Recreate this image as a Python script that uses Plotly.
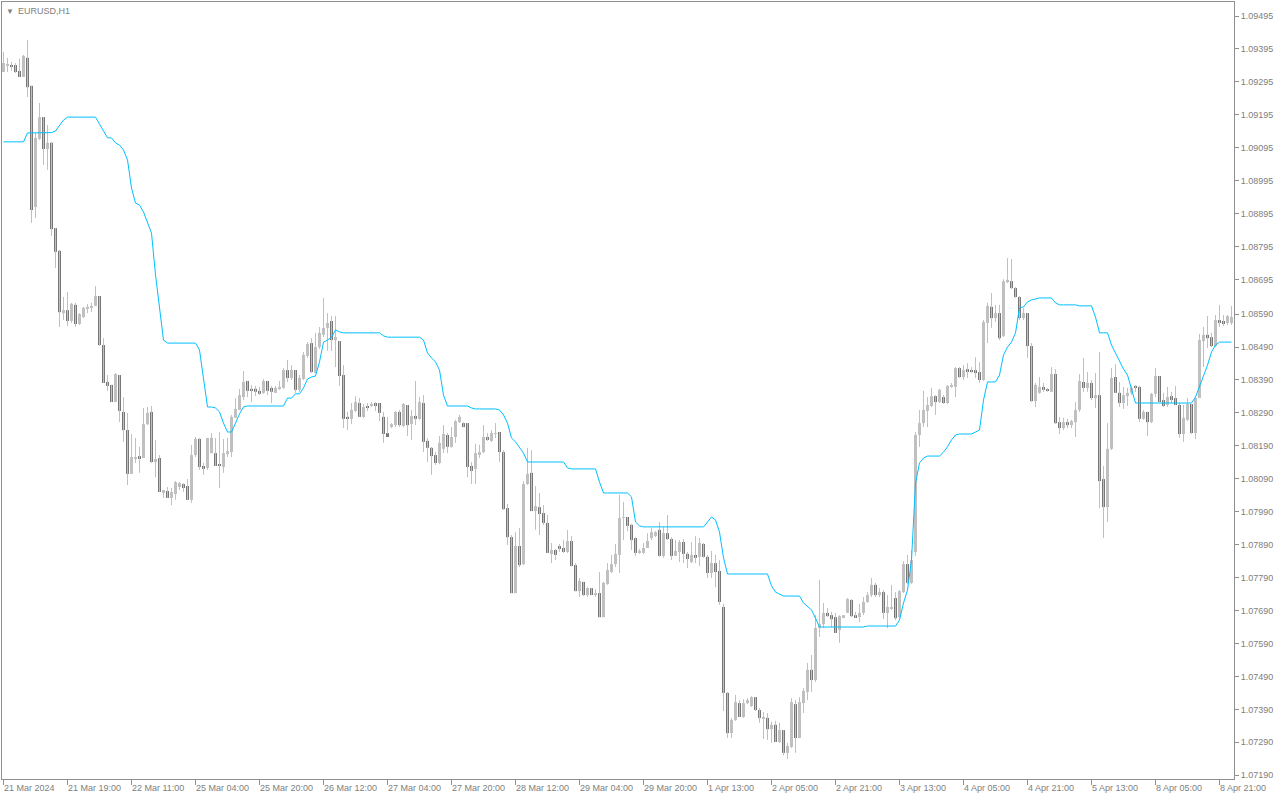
import plotly.graph_objects as go

# EURUSD H1 prices, in points (1 point = 0.00001)
PT = 0.00001

OPEN_PTS = [
    109325, 109346, 109346, 109346, 109328, 109310, 109368, 109283, 108915, 109122,  # 0
    109188, 109091, 109110, 108851, 108782, 108593, 108602, 108569, 108618, 108560,  # 10
    108581, 108606, 108609, 108615, 108645, 108496, 108384, 108375, 108323, 108405,  # 20
    108293, 108238, 108105, 108153, 108159, 108153, 108256, 108293, 108141, 108153,  # 30
    108047, 108053, 108032, 108044, 108065, 108074, 108068, 108026, 108162, 108211,  # 40
    108129, 108123, 108168, 108168, 108132, 108126, 108165, 108171, 108275, 108299,  # 50
    108338, 108387, 108363, 108363, 108357, 108351, 108387, 108366, 108351, 108363,  # 60
    108366, 108420, 108396, 108420, 108360, 108393, 108463, 108502, 108411, 108490,  # 70
    108527, 108548, 108569, 108511, 108508, 108405, 108278, 108272, 108296, 108320,  # 80
    108278, 108311, 108314, 108320, 108320, 108278, 108229, 108250, 108253, 108293,  # 90
    108250, 108314, 108256, 108281, 108272, 108320, 108205, 108184, 108162, 108138,  # 100
    108181, 108223, 108187, 108217, 108262, 108259, 108259, 108129, 108120, 108165,  # 110
    108171, 108217, 108205, 108226, 108232, 108171, 108001, 107913, 107743, 107886,  # 120
    107831, 108074, 108108, 107992, 108004, 107986, 107956, 107862, 107874, 107886,  # 130
    107880, 107868, 107901, 107828, 107749, 107777, 107737, 107758, 107740, 107743,  # 140
    107670, 107771, 107807, 107831, 107859, 107971, 107974, 107950, 107910, 107865,  # 150
    107865, 107880, 107910, 107916, 107935, 107856, 107925, 107907, 107856, 107868,  # 160
    107898, 107862, 107837, 107859, 107853, 107892, 107853, 107804, 107834, 107810,  # 170
    107701, 107440, 107318, 107358, 107409, 107367, 107409, 107400, 107427, 107388,  # 180
    107361, 107364, 107330, 107343, 107291, 107327, 107258, 107276, 107406, 107303,  # 190
    107409, 107443, 107510, 107479, 107637, 107649, 107683, 107676, 107670, 107631,  # 200
    107670, 107683, 107722, 107676, 107670, 107683, 107716, 107737, 107768, 107737,  # 210
    107746, 107683, 107695, 107728, 107670, 107746, 107831, 107774, 107868, 108223,  # 220
    108259, 108296, 108311, 108341, 108323, 108338, 108320, 108369, 108369, 108426,  # 230
    108399, 108423, 108420, 108420, 108414, 108390, 108563, 108612, 108578, 108593,  # 240
    108524, 108687, 108690, 108669, 108642, 108578, 108593, 108493, 108326, 108351,  # 250
    108369, 108360, 108354, 108408, 108262, 108244, 108262, 108253, 108262, 108299,  # 260
    108384, 108366, 108381, 108335, 108344, 108089, 108004, 108181, 108399, 108351,  # 270
    108320, 108341, 108351, 108372, 108369, 108272, 108293, 108262, 108348, 108402,  # 280
    108329, 108314, 108341, 108335, 108314, 108226, 108269, 108317, 108229, 108335,  # 290
    108508, 108527, 108520, 108493, 108572, 108569, 108563, 108563,                  # 300
]

HIGH_PTS = [
    109386, 109368, 109355, 109352, 109365, 109377, 109422, 109283, 109140, 109231,  # 0
    109188, 109164, 109113, 108851, 108785, 108642, 108657, 108624, 108624, 108593,  # 10
    108612, 108621, 108624, 108675, 108645, 108517, 108405, 108375, 108411, 108405,  # 20
    108338, 108290, 108226, 108214, 108187, 108305, 108308, 108311, 108208, 108162,  # 30
    108056, 108065, 108062, 108083, 108080, 108077, 108089, 108193, 108217, 108214,  # 40
    108138, 108214, 108229, 108214, 108232, 108211, 108214, 108284, 108335, 108363,  # 50
    108417, 108387, 108375, 108372, 108369, 108393, 108387, 108372, 108372, 108387,  # 60
    108426, 108451, 108435, 108420, 108405, 108475, 108505, 108517, 108533, 108551,  # 70
    108639, 108593, 108584, 108584, 108508, 108435, 108293, 108320, 108341, 108335,  # 80
    108317, 108320, 108323, 108323, 108320, 108293, 108278, 108259, 108296, 108299,  # 90
    108320, 108314, 108299, 108387, 108338, 108344, 108214, 108187, 108171, 108220,  # 100
    108253, 108229, 108247, 108269, 108284, 108262, 108259, 108141, 108196, 108193,  # 110
    108253, 108229, 108238, 108259, 108232, 108177, 108014, 107919, 107928, 107941,  # 120
    108083, 108184, 108177, 108068, 108047, 108010, 107980, 107895, 107877, 107892,  # 130
    107904, 107935, 107916, 107834, 107789, 107777, 107761, 107758, 107755, 107807,  # 140
    107777, 107834, 107859, 107892, 108041, 108020, 107974, 107953, 107913, 107877,  # 150
    107895, 107925, 107941, 107931, 107959, 107944, 107980, 107913, 107904, 107904,  # 160
    107907, 107868, 107898, 107916, 107910, 107895, 107859, 107871, 107859, 107843,  # 170
    107710, 107443, 107364, 107434, 107418, 107421, 107424, 107430, 107427, 107394,  # 180
    107382, 107379, 107352, 107355, 107349, 107327, 107288, 107424, 107418, 107427,  # 190
    107455, 107531, 107555, 107676, 107783, 107713, 107698, 107686, 107683, 107676,  # 200
    107676, 107728, 107725, 107686, 107710, 107731, 107746, 107789, 107774, 107758,  # 210
    107752, 107737, 107768, 107746, 107752, 107840, 107859, 107874, 108232, 108299,  # 220
    108357, 108338, 108366, 108344, 108363, 108344, 108375, 108381, 108429, 108429,  # 230
    108435, 108441, 108429, 108459, 108444, 108572, 108624, 108654, 108618, 108618,  # 240
    108696, 108760, 108757, 108672, 108645, 108609, 108593, 108502, 108381, 108399,  # 250
    108381, 108366, 108429, 108423, 108278, 108275, 108272, 108269, 108323, 108408,  # 260
    108457, 108414, 108390, 108411, 108475, 108129, 108259, 108426, 108438, 108384,  # 270
    108369, 108366, 108372, 108375, 108372, 108299, 108293, 108351, 108426, 108402,  # 280
    108351, 108369, 108354, 108372, 108320, 108314, 108335, 108317, 108338, 108530,  # 290
    108551, 108584, 108533, 108587, 108618, 108587, 108587, 108615,                  # 300
]

LOW_PTS = [
    109325, 109325, 109328, 109322, 109310, 109310, 109249, 108867, 108882, 109119,  # 0
    109043, 109028, 108827, 108730, 108551, 108572, 108554, 108563, 108551, 108557,  # 10
    108578, 108593, 108596, 108615, 108493, 108381, 108357, 108323, 108323, 108262,  # 20
    108202, 108071, 108105, 108138, 108108, 108153, 108253, 108138, 108095, 108050,  # 30
    108032, 108032, 108010, 108026, 108056, 108050, 108026, 108017, 108156, 108117,  # 40
    108102, 108117, 108168, 108129, 108062, 108108, 108156, 108156, 108275, 108299,  # 50
    108329, 108338, 108323, 108341, 108344, 108348, 108344, 108320, 108351, 108360,  # 60
    108363, 108384, 108390, 108351, 108354, 108390, 108457, 108411, 108411, 108484,  # 70
    108520, 108478, 108478, 108429, 108372, 108244, 108238, 108256, 108293, 108278,  # 80
    108275, 108296, 108308, 108296, 108265, 108199, 108226, 108244, 108247, 108247,  # 90
    108247, 108220, 108208, 108253, 108269, 108171, 108141, 108102, 108132, 108135,  # 100
    108168, 108168, 108184, 108199, 108259, 108247, 108095, 108074, 108074, 108153,  # 110
    108168, 108205, 108202, 108214, 108141, 107995, 107889, 107743, 107743, 107822,  # 120
    107828, 108071, 107992, 107935, 107919, 107950, 107865, 107834, 107843, 107868,  # 130
    107865, 107865, 107825, 107749, 107731, 107734, 107731, 107737, 107731, 107670,  # 140
    107670, 107768, 107804, 107822, 107804, 107904, 107931, 107874, 107856, 107862,  # 150
    107862, 107880, 107904, 107913, 107853, 107850, 107904, 107843, 107856, 107837,  # 160
    107834, 107819, 107834, 107834, 107825, 107850, 107789, 107789, 107761, 107707,  # 170
    107385, 107303, 107303, 107355, 107367, 107364, 107406, 107397, 107385, 107349,  # 180
    107300, 107297, 107288, 107291, 107288, 107251, 107239, 107273, 107258, 107303,  # 190
    107379, 107418, 107443, 107473, 107610, 107637, 107670, 107640, 107622, 107592,  # 200
    107667, 107683, 107670, 107667, 107655, 107676, 107713, 107731, 107731, 107731,  # 210
    107664, 107637, 107692, 107661, 107667, 107743, 107771, 107771, 107856, 108187,  # 220
    108247, 108247, 108308, 108284, 108320, 108317, 108317, 108366, 108338, 108396,  # 230
    108390, 108396, 108411, 108396, 108381, 108387, 108502, 108548, 108566, 108511,  # 240
    108520, 108684, 108666, 108639, 108572, 108572, 108457, 108323, 108308, 108348,  # 250
    108354, 108354, 108354, 108256, 108226, 108238, 108244, 108244, 108217, 108293,  # 260
    108354, 108354, 108329, 108305, 108001, 107910, 107959, 108177, 108351, 108308,  # 270
    108302, 108311, 108344, 108354, 108262, 108269, 108220, 108259, 108338, 108323,  # 280
    108308, 108308, 108320, 108314, 108214, 108202, 108265, 108226, 108211, 108335,  # 290
    108429, 108487, 108490, 108490, 108551, 108554, 108557, 108557,                  # 300
]

CLOSE_PTS = [
    109352, 109349, 109343, 109325, 109310, 109374, 109279, 108906, 109125, 109188,  # 0
    109091, 109110, 108848, 108779, 108596, 108602, 108569, 108621, 108560, 108590,  # 10
    108609, 108612, 108612, 108645, 108496, 108381, 108372, 108323, 108408, 108296,  # 20
    108238, 108105, 108156, 108156, 108153, 108256, 108290, 108141, 108150, 108050,  # 30
    108056, 108032, 108050, 108080, 108077, 108062, 108026, 108162, 108211, 108126,  # 40
    108120, 108214, 108214, 108129, 108129, 108168, 108174, 108278, 108302, 108344,  # 50
    108384, 108357, 108357, 108354, 108348, 108387, 108357, 108354, 108366, 108369,  # 60
    108420, 108396, 108420, 108360, 108396, 108466, 108499, 108414, 108490, 108533,  # 70
    108548, 108563, 108511, 108520, 108402, 108272, 108272, 108299, 108323, 108278,  # 80
    108308, 108305, 108317, 108314, 108290, 108226, 108217, 108256, 108293, 108253,  # 90
    108317, 108253, 108281, 108272, 108323, 108202, 108184, 108159, 108138, 108199,  # 100
    108226, 108187, 108217, 108265, 108278, 108247, 108126, 108114, 108168, 108171,  # 110
    108217, 108208, 108229, 108229, 108171, 107998, 107913, 107743, 107886, 107828,  # 120
    108074, 108105, 107992, 108007, 107983, 107956, 107865, 107874, 107859, 107877,  # 130
    107868, 107901, 107825, 107749, 107780, 107737, 107758, 107737, 107743, 107670,  # 140
    107774, 107813, 107831, 107862, 107971, 107974, 107947, 107904, 107865, 107871,  # 150
    107880, 107901, 107928, 107928, 107856, 107925, 107907, 107856, 107871, 107898,  # 160
    107862, 107847, 107859, 107850, 107895, 107853, 107804, 107834, 107807, 107716,  # 170
    107440, 107318, 107358, 107412, 107367, 107409, 107418, 107427, 107388, 107364,  # 180
    107364, 107330, 107343, 107291, 107327, 107258, 107279, 107412, 107303, 107412,  # 190
    107446, 107510, 107479, 107637, 107649, 107683, 107673, 107664, 107622, 107673,  # 200
    107676, 107725, 107673, 107670, 107683, 107716, 107737, 107768, 107737, 107746,  # 210
    107683, 107701, 107701, 107667, 107749, 107831, 107774, 107843, 108223, 108259,  # 220
    108299, 108314, 108341, 108323, 108360, 108320, 108372, 108375, 108426, 108399,  # 230
    108420, 108417, 108417, 108411, 108390, 108566, 108615, 108578, 108593, 108517,  # 240
    108690, 108694, 108669, 108642, 108578, 108593, 108493, 108326, 108375, 108369,  # 250
    108360, 108357, 108408, 108259, 108244, 108262, 108253, 108265, 108299, 108387,  # 260
    108366, 108381, 108335, 108344, 108083, 108004, 108181, 108396, 108351, 108320,  # 270
    108344, 108351, 108366, 108366, 108272, 108293, 108262, 108348, 108402, 108323,  # 280
    108311, 108338, 108329, 108314, 108226, 108275, 108317, 108229, 108335, 108511,  # 290
    108527, 108517, 108493, 108572, 108563, 108560, 108584, 108581,                  # 300
]

# indicator line (blue), one value per bar
LINE_PTS = [
    109113, 109113, 109113, 109113, 109113, 109113, 109140, 109140, 109140, 109140,  # 0
    109140, 109140, 109141, 109146, 109164, 109179, 109188, 109188, 109188, 109188,  # 10
    109188, 109188, 109188, 109188, 109167, 109146, 109125, 109125, 109110, 109103,  # 20
    109088, 109058, 108973, 108927, 108921, 108900, 108870, 108836, 108709, 108618,  # 30
    108511, 108502, 108502, 108502, 108502, 108502, 108502, 108502, 108502, 108481,  # 40
    108390, 108308, 108308, 108305, 108293, 108259, 108232, 108232, 108259, 108287,  # 50
    108308, 108311, 108311, 108311, 108311, 108311, 108311, 108311, 108311, 108311,  # 60
    108311, 108335, 108335, 108348, 108348, 108366, 108393, 108399, 108402, 108445,  # 70
    108505, 108511, 108520, 108542, 108536, 108533, 108533, 108533, 108533, 108533,  # 80
    108533, 108533, 108533, 108533, 108533, 108524, 108520, 108520, 108520, 108520,  # 90
    108520, 108520, 108520, 108520, 108520, 108511, 108472, 108457, 108445, 108420,  # 100
    108344, 108311, 108311, 108311, 108311, 108311, 108311, 108305, 108302, 108302,  # 110
    108302, 108302, 108302, 108302, 108299, 108284, 108259, 108214, 108202, 108184,  # 120
    108168, 108141, 108141, 108141, 108141, 108141, 108141, 108141, 108141, 108141,  # 130
    108141, 108123, 108120, 108120, 108120, 108120, 108120, 108120, 108120, 108080,  # 140
    108047, 108047, 108047, 108047, 108047, 108047, 108047, 108035, 107959, 107947,  # 150
    107944, 107944, 107944, 107944, 107944, 107944, 107944, 107944, 107944, 107944,  # 160
    107944, 107944, 107944, 107944, 107944, 107944, 107959, 107974, 107965, 107928,  # 170
    107850, 107801, 107801, 107801, 107801, 107801, 107801, 107801, 107801, 107801,  # 180
    107801, 107801, 107765, 107746, 107740, 107734, 107734, 107734, 107734, 107734,  # 190
    107713, 107701, 107692, 107667, 107640, 107640, 107640, 107640, 107640, 107640,  # 200
    107640, 107640, 107640, 107640, 107640, 107640, 107643, 107643, 107643, 107643,  # 210
    107643, 107643, 107643, 107643, 107661, 107713, 107752, 107843, 108077, 108138,  # 220
    108153, 108159, 108159, 108159, 108159, 108171, 108187, 108208, 108223, 108226,  # 230
    108226, 108226, 108226, 108232, 108238, 108329, 108384, 108384, 108384, 108405,  # 240
    108466, 108490, 108505, 108533, 108609, 108612, 108627, 108633, 108636, 108639,  # 250
    108639, 108639, 108639, 108624, 108618, 108618, 108618, 108618, 108618, 108615,  # 260
    108615, 108615, 108615, 108581, 108533, 108533, 108533, 108496, 108472, 108451,  # 270
    108423, 108405, 108360, 108320, 108320, 108320, 108320, 108320, 108320, 108320,  # 280
    108320, 108320, 108320, 108320, 108320, 108320, 108320, 108320, 108338, 108369,  # 290
    108405, 108435, 108475, 108496, 108505, 108505, 108505, 108505,                  # 300
]

TIME_LABELS = [
    "21 Mar 2024", "21 Mar 19:00", "22 Mar 11:00", "25 Mar 04:00", "25 Mar 20:00",
    "26 Mar 12:00", "27 Mar 04:00", "27 Mar 20:00", "28 Mar 12:00", "29 Mar 04:00",
    "29 Mar 20:00", "1 Apr 13:00", "2 Apr 05:00", "2 Apr 21:00", "3 Apr 13:00",
    "4 Apr 05:00", "4 Apr 21:00", "5 Apr 13:00", "8 Apr 05:00", "8 Apr 21:00",
]
BARS_PER_LABEL = 16

PRICE_LABELS = [
    "1.09495", "1.09395", "1.09295", "1.09195", "1.09095", "1.08995", "1.08895",
    "1.08795", "1.08695", "1.08590", "1.08490", "1.08390", "1.08290", "1.08190",
    "1.08090", "1.07990", "1.07890", "1.07790", "1.07690", "1.07590", "1.07490",
    "1.07390", "1.07290", "1.07190",
]

# ---------------------------------------------------------------- styles
BULL = "#c0c0c0"
BEAR = "#777777"
WICK = "#c0c0c0"
LINE = "#00bfff"
FRAME = "#909090"
TXT = "#808080"
FONT = "Liberation Sans, Arial, sans-serif"

n = len(OPEN_PTS)
xs = list(range(n))
o = [v * PT for v in OPEN_PTS]
h = [v * PT for v in HIGH_PTS]
l = [v * PT for v in LOW_PTS]
c = [v * PT for v in CLOSE_PTS]
ind = [v * PT for v in LINE_PTS]

MIN_BODY = 0.00003  # about one pixel, so dojis stay visible

bx, bb, bh = [], [], []
dx, db, dh = [], [], []
for i in xs:
    lo_b = min(o[i], c[i])
    hgt = max(abs(c[i] - o[i]), MIN_BODY)
    if c[i] >= o[i]:
        bx.append(i); bb.append(lo_b); bh.append(hgt)
    else:
        dx.append(i); db.append(lo_b); dh.append(hgt)

wx, wy = [], []
for i in xs:
    wx += [i, i, None]
    wy += [l[i], h[i], None]

fig = go.Figure()
fig.add_trace(go.Scatter(x=wx, y=wy, mode="lines",
                         line=dict(color=WICK, width=1), hoverinfo="skip"))
fig.add_trace(go.Bar(x=bx, y=bh, base=bb, width=0.75,
                     marker=dict(color=BULL, line=dict(width=0))))
fig.add_trace(go.Bar(x=dx, y=dh, base=db, width=0.75,
                     marker=dict(color=BEAR, line=dict(width=0))))
fig.add_trace(go.Scatter(x=xs, y=ind, mode="lines",
                         line=dict(color=LINE, width=1)))

tickvals_x = [k * BARS_PER_LABEL for k in range(len(TIME_LABELS))]
price_vals = [float(s) for s in PRICE_LABELS]

annotations = []
for tv, lab in zip(tickvals_x, TIME_LABELS):
    annotations.append(dict(x=tv, y=0, xref="x", yref="paper", text=lab,
                            showarrow=False, xanchor="left", yanchor="top",
                            xshift=-2, yshift=-2,
                            font=dict(family=FONT, size=9, color=TXT)))
annotations.append(dict(x=0, y=1, xref="paper", yref="paper", text="▼",
                        showarrow=False, xanchor="left", yanchor="top",
                        xshift=2, yshift=-3,
                        font=dict(family=FONT, size=8, color=TXT)))
annotations.append(dict(x=0, y=1, xref="paper", yref="paper", text="EURUSD,H1",
                        showarrow=False, xanchor="left", yanchor="top",
                        xshift=14, yshift=-2,
                        font=dict(family=FONT, size=9, color=TXT)))

fig.update_layout(
    width=1280, height=800, autosize=False,
    margin=dict(l=2, r=46, t=2, b=21, pad=0),
    paper_bgcolor="white", plot_bgcolor="white",
    barmode="overlay", showlegend=False, hovermode=False,
    font=dict(family=FONT, size=9, color=TXT),
    annotations=annotations,
    xaxis=dict(range=[-0.375, n - 0.375], showgrid=False, zeroline=False,
               showline=True, mirror=True, linecolor=FRAME, linewidth=1,
               tickmode="array", tickvals=tickvals_x, showticklabels=False,
               ticks="outside", ticklen=5, tickcolor=FRAME, tickwidth=1),
    yaxis=dict(range=[1.071786, 1.095375], side="right", showgrid=False,
               zeroline=False, showline=True, mirror=True, linecolor=FRAME,
               linewidth=1, tickmode="array", tickvals=price_vals,
               ticktext=PRICE_LABELS, ticks="outside", ticklen=4,
               tickcolor=FRAME, tickwidth=1,
               tickfont=dict(family=FONT, size=9, color=TXT)),
)

fig.write_html("out.html", config={"displayModeBar": False},
               post_script="document.body.style.margin='0';")
